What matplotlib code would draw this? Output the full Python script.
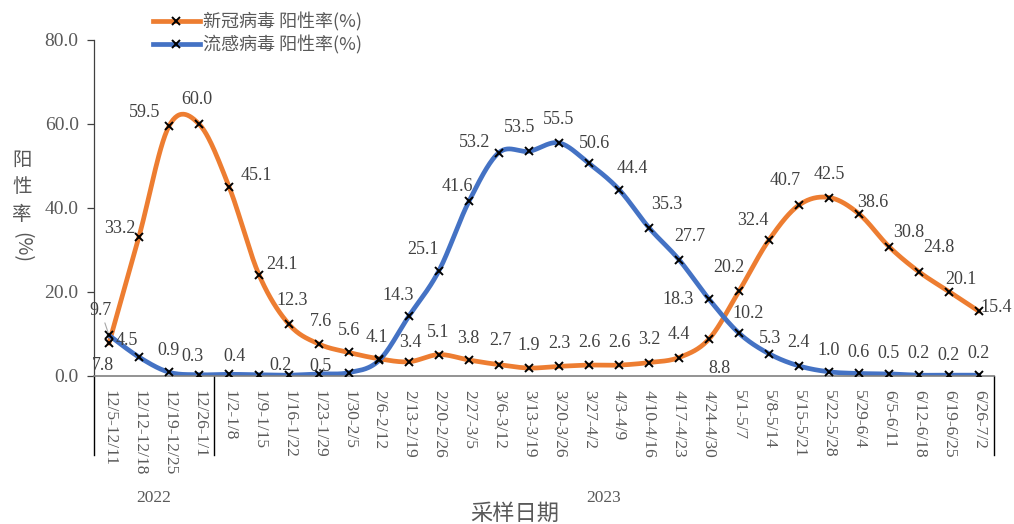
import numpy as np
import matplotlib
matplotlib.use("Agg")
import matplotlib.pyplot as plt
from matplotlib.lines import Line2D
import matplotlib.transforms as mtransforms

plt.rcParams['font.family'] = ['Liberation Serif', 'Noto Sans CJK SC', 'DejaVu Sans']

categories = ["12/5-12/11", "12/12-12/18", "12/19-12/25", "12/26-1/1",
              "1/2-1/8", "1/9-1/15", "1/16-1/22", "1/23-1/29", "1/30-2/5",
              "2/6-2/12", "2/13-2/19", "2/20-2/26", "2/27-3/5", "3/6-3/12",
              "3/13-3/19", "3/20-3/26", "3/27-4/2", "4/3-4/9", "4/10-4/16",
              "4/17-4/23", "4/24-4/30", "5/1-5/7", "5/8-5/14", "5/15-5/21",
              "5/22-5/28", "5/29-6/4", "6/5-6/11", "6/12-6/18", "6/19-6/25",
              "6/26-7/2"]
years = ["2022", "2023"]
year_counts = [4, 26]

covid = [7.8, 33.2, 59.5, 60.0, 45.1, 24.1, 12.3, 7.6, 5.6, 4.1, 3.4, 5.1, 3.8,
         2.7, 1.9, 2.3, 2.6, 2.6, 3.2, 4.4, 8.8, 20.2, 32.4, 40.7, 42.5, 38.6,
         30.8, 24.8, 20.1, 15.4]
flu = [9.7, 4.5, 0.9, 0.3, 0.4, 0.3, 0.2, 0.5, 0.8, 3.7, 14.3, 25.1, 41.6,
       53.2, 53.5, 55.5, 50.6, 44.4, 35.3, 27.7, 18.3, 10.2, 5.3, 2.4, 1.0, 0.6,
       0.5, 0.2, 0.2, 0.2]
series_names = ["新冠病毒 阳性率(%)", "流感病毒 阳性率(%)"]

# label offsets (pixels) -- positions only
covid_off = [(-6, -22), (-19, 8), (-24, 14), (-2, 24), (27, 11), (23, 10), (3, 24),
             (2, 23), (0, 22), (-2, 21), (1, 19), (-1, 22), (-1, 22), (1, 24),
             (0, 23), (0, 23), (0, 23), (0, 23), (0, 23), (0, 23), (10, -29),
             (-10, 24), (-16, 19), (-14, 25), (0, 23), (14, 11), (20, 14), (20, 24),
             (12, 12), (17, 4)]
flu_off = [(-8, 25), (-12, 17), (0, 22), (-6, 18), (6, 18), None, (-9, 10), (1, 7),
           None, None, (-11, 20), (-16, 21), (-12, 15), (-24, 10), (-9, 24), (0, 23),
           (6, 20), (13, 21), (18, 23), (11, 23), (-31, 0), (9, 20), (1, 15),
           (-1, 23), (0, 21), (0, 21), (-1, 20), (-1, 22), (-1, 20), (-1, 22)]

ORANGE = "#ED7D31"
BLUE = "#4472C4"
GRAY = "#595959"
LBL = "#404040"


def smooth(y, n=30):
    """Excel-like Bezier smoothing through the data points."""
    x = np.arange(len(y), dtype=float)
    y = np.asarray(y, dtype=float)
    xs, ys = [], []
    for i in range(len(y) - 1):
        p0 = np.array([x[max(i - 1, 0)], y[max(i - 1, 0)]])
        p1 = np.array([x[i], y[i]])
        p2 = np.array([x[i + 1], y[i + 1]])
        p3 = np.array([x[min(i + 2, len(y) - 1)], y[min(i + 2, len(y) - 1)]])
        c1 = p1 + (p2 - p0) / 6.0
        c2 = p2 - (p3 - p1) / 6.0
        t = np.linspace(0, 1, n)[:, None]
        b = ((1 - t) ** 3) * p1 + 3 * ((1 - t) ** 2) * t * c1 + 3 * (1 - t) * t ** 2 * c2 + t ** 3 * p2
        if i > 0:
            b = b[1:]
        xs.append(b[:, 0]); ys.append(b[:, 1])
    return np.concatenate(xs), np.concatenate(ys)


fig = plt.figure(figsize=(10.14, 5.24), dpi=100)
W, H = 1014, 524
ax = fig.add_axes([94 / W, 1 - 376 / H, (994 - 94) / W, (376 - 40) / H])

x = np.arange(len(categories))
for vals, col in ((covid, ORANGE), (flu, BLUE)):
    sx, sy = smooth(vals)
    ax.plot(sx, sy, color=col, lw=3.4, solid_capstyle='round', zorder=2)
    ax.plot(x, vals, ls='none', marker='x', color='black', ms=5.5, mew=1.4, zorder=3)

for vals, offs in ((covid, covid_off), (flu, flu_off)):
    for i, v in enumerate(vals):
        if offs[i] is None:
            continue
        dx, dy = offs[i]
        ax.annotate(f"{v:.1f}", (i, v), xytext=(dx, dy), textcoords='offset pixels',
                    ha='center', va='center', fontsize=13, color=LBL,
                    family='Liberation Serif', zorder=4)

# leader line for first flu label
ax.annotate("", (0, flu[0]), xytext=(-5, 15), textcoords='offset pixels',
            arrowprops=dict(arrowstyle='-', color='#A6A6A6', lw=0.8))

ax.set_xlim(-0.5, len(categories) - 0.5)
ax.set_ylim(0, 80)
ax.set_yticks([0, 20, 40, 60, 80])
ax.set_yticklabels([f"{v:.1f}" for v in [0, 20, 40, 60, 80]])
ax.tick_params(axis='y', labelsize=14, colors=GRAY, length=5, width=0.9, pad=6)
for lab in ax.get_yticklabels():
    lab.set_family('Liberation Serif')
ax.tick_params(axis='y', color='#404040')
ax.set_xticks(x)
ax.set_xticklabels(categories, rotation=-90, fontsize=12.5, color=GRAY,
                   family='Liberation Serif', va='top', ha='center')
ax.tick_params(axis='x', length=0, pad=10)

for s in ('top', 'right'):
    ax.spines[s].set_visible(False)
ax.spines['left'].set_color('#404040')
ax.spines['left'].set_linewidth(0.9)
ax.spines['bottom'].set_color('#808080')
ax.spines['bottom'].set_linewidth(1.2)

# multi-level category dividers
trans = mtransforms.blended_transform_factory(ax.transData, ax.transAxes)
bounds = np.concatenate([[0], np.cumsum(year_counts)]) - 0.5
ybot = -(455 - 376) / (376 - 40)
for b in bounds:
    ax.plot([b, b], [0, ybot], transform=trans, color='black', lw=1.0, clip_on=False)
for k, yr in enumerate(years):
    cx = (bounds[k] + bounds[k + 1]) / 2
    ax.text(cx, -(498 - 376) / (376 - 40), yr, transform=trans, ha='center', va='center',
            fontsize=12.5, color=GRAY, family='Liberation Serif')

# axis titles
fig.text(515 / W, 1 - 513 / H, "采样日期", ha='center', va='center', fontsize=16,
         color=GRAY, family='Noto Sans CJK SC')
for ch, yy in zip("阳性率", (160, 187, 214)):
    fig.text(22 / W, 1 - yy / H, ch, ha='center', va='center', fontsize=14,
             color=GRAY, family='Noto Sans CJK SC')
fig.text(22 / W, 1 - 248 / H, "(%)", ha='center', va='center', fontsize=14,
         color=GRAY, rotation=-90, family='Noto Sans CJK SC')

handles = [Line2D([], [], color=ORANGE, lw=3.4, marker='x', mec='black', ms=5.5, mew=1.4),
           Line2D([], [], color=BLUE, lw=3.4, marker='x', mec='black', ms=5.5, mew=1.4)]
leg = fig.legend(handles, series_names, loc='upper left', bbox_to_anchor=(140 / W, 1 - 0 / H),
                 frameon=False, numpoints=1, handlelength=2.6, handletextpad=0.2,
                 labelspacing=0.2, borderpad=0.2,
                 prop={'family': 'Noto Sans CJK SC', 'size': 13})
for t in leg.get_texts():
    t.set_color(GRAY)

fig.savefig("out.png", dpi=100)
